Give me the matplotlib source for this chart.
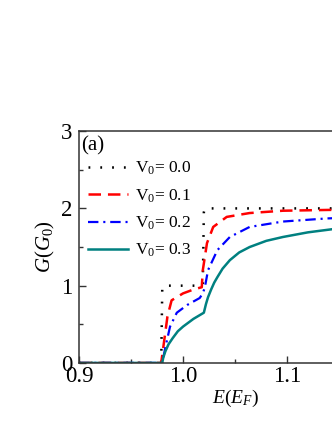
import matplotlib
matplotlib.use("Agg")
import matplotlib.pyplot as plt
from matplotlib.ticker import MultipleLocator, FixedLocator, FormatStrFormatter

plt.rcParams['font.family'] = ['Liberation Serif', 'DejaVu Serif']
plt.rcParams['mathtext.fontset'] = 'custom'
plt.rcParams['mathtext.rm'] = 'Liberation Serif'
plt.rcParams['mathtext.it'] = 'Liberation Serif:italic'
plt.rcParams['lines.scale_dashes'] = False

# data
E0 = [0.90, 0.979, 0.980, 0.981, 1.019, 1.020, 1.021, 1.20]
G0 = [0.0, 0.0, 0.95, 1.0, 1.0, 1.95, 2.0, 2.0]

E1 = [0.90, 0.979, 0.981, 0.985, 0.989, 1.000, 1.010, 1.018, 1.019, 1.023, 1.029, 1.042, 1.064, 1.096, 1.138, 1.20]
G1 = [0.0, 0.0, 0.2, 0.6, 0.81, 0.90, 0.95, 0.98, 1.2, 1.55, 1.76, 1.89, 1.94, 1.97, 1.98, 1.99]

E2 = [0.90, 0.980, 0.983, 0.9875, 0.994, 1.004, 1.016, 1.019, 1.021, 1.024, 1.033, 1.045, 1.064, 1.096, 1.138, 1.20]
G2 = [0.0, 0.0, 0.2, 0.47, 0.65, 0.75, 0.84, 0.90, 0.98, 1.2, 1.46, 1.63, 1.76, 1.83, 1.87, 1.90]

E3 = [0.90, 0.980, 0.981, 0.983, 0.986, 0.990, 0.995, 1.000, 1.005, 1.010, 1.015, 1.020,
      1.022, 1.024, 1.027, 1.030, 1.033, 1.038, 1.045, 1.054, 1.064, 1.080, 1.096, 1.120, 1.143, 1.17, 1.20]
G3 = [0.0, 0.0, 0.07, 0.15, 0.24, 0.32, 0.41, 0.47, 0.52, 0.57, 0.61, 0.65,
      0.76, 0.85, 0.95, 1.04, 1.11, 1.22, 1.33, 1.43, 1.50, 1.58, 1.63, 1.69, 1.73, 1.76, 1.78]

labels = ["V$_0$= 0.0", "V$_0$= 0.1", "V$_0$= 0.2", "V$_0$= 0.3"]
xticks = [0.9, 1.0, 1.1]
yticks = [0, 1, 2, 3]

fig = plt.figure(figsize=(3.32, 4.30), dpi=100)
ax = fig.add_axes([0.238, 0.156, 0.94, 0.539])

ax.plot(E0, G0, color='black', lw=1.8, linestyle=(0, (1.3, 7.2)), label=labels[0])
ax.plot(E1, G1, color='#ff0000', lw=1.8, linestyle=(0, (9, 5)), label=labels[1])
ax.plot(E2, G2, color='#0000ff', lw=1.6, linestyle=(0, (7.5, 3.5, 1.5, 3.5)), label=labels[2])
ax.plot(E3, G3, color='#008080', lw=1.8, linestyle='-', label=labels[3])

ax.set_xlim(0.9, 1.2)
ax.set_ylim(0, 3)
ax.xaxis.set_major_locator(FixedLocator(xticks))
ax.xaxis.set_minor_locator(MultipleLocator(0.05))
ax.yaxis.set_major_locator(FixedLocator(yticks))
ax.yaxis.set_minor_locator(MultipleLocator(0.5))
ax.xaxis.set_major_formatter(FormatStrFormatter('%.1f'))
ax.yaxis.set_major_formatter(FormatStrFormatter('%d'))

ax.tick_params(which='both', direction='in', labelsize=16.5, colors='#333333', labelcolor='black')
ax.tick_params(which='major', length=5, width=1)
ax.tick_params(which='minor', length=3, width=1)
ax.tick_params(axis='x', pad=2)
ax.tick_params(axis='y', pad=5)
for s in ax.spines.values():
    s.set_color('#333333')
    s.set_linewidth(1.1)

ax.set_xlabel('$E(E_F)$', fontsize=14, labelpad=1)
ax.set_ylabel('$G(G_0)$', fontsize=15, labelpad=3)

ax.text(0.008, 0.98, '(a)', transform=ax.transAxes, fontsize=15, va='top', ha='left')

leg = ax.legend(loc='upper left', bbox_to_anchor=(0.019, 0.892), frameon=False,
                fontsize=12.5, handlelength=2.3, handletextpad=0.4,
                labelspacing=0.58, borderaxespad=0.0, borderpad=0.2)

fig.savefig('out.png', dpi=100)
